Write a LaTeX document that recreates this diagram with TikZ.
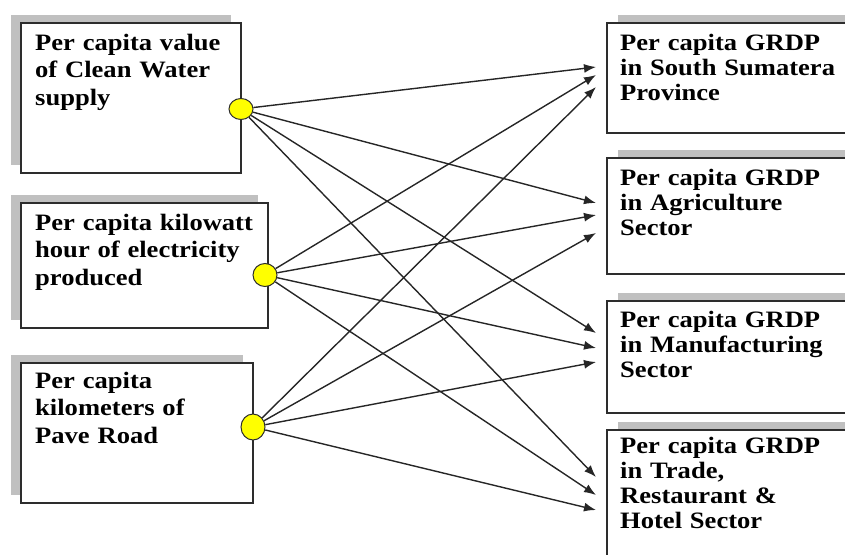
\documentclass[tikz,border=0pt]{standalone}
\usepackage{fontspec}
\setmainfont{Liberation Serif}[FakeStretch=1.13]
\usetikzlibrary{shapes.geometric}
\usetikzlibrary{shadows}
\usetikzlibrary{arrows.meta}

\definecolor{shade}{RGB}{192,192,192}
\definecolor{edge}{RGB}{45,45,45}
\definecolor{dot}{RGB}{255,255,0}

\begin{document}
\begin{tikzpicture}[x=1pt, y=-1pt,
    box/.style={draw=edge, line width=1.5pt, fill=white, anchor=north west, inner sep=0pt},
    leftbox/.style={box, general shadow={fill=shade, shadow xshift=-10pt, shadow yshift=8pt}},
    rightbox/.style={box, general shadow={fill=shade, shadow xshift=11pt, shadow yshift=8pt}},
    lefttext/.style={anchor=base west, inner sep=0pt, text width=250pt, align=left,
      font=\fontsize{23.5}{27.5}\selectfont\bfseries},
    righttext/.style={anchor=base west, inner sep=0pt, text width=250pt, align=left,
      font=\fontsize{23.5}{25.3}\selectfont\bfseries},
    hub/.style={ellipse, draw=edge, line width=1pt, fill=dot, minimum width=24pt,
      minimum height=21pt, inner sep=0pt},
    link/.style={-{Latex[length=12pt,width=9pt]}, line width=1.4pt, draw=black!85}]
                  \useasboundingbox (0,0) rectangle (845,554);
                  \clip (0,0) rectangle (845,554);

                  \node[leftbox, minimum width=220pt, minimum height=150pt] (water) at (20,22) {};
                  \node[leftbox, minimum width=247pt, minimum height=125pt] (power) at (20,202) {};
                  \node[leftbox, minimum width=232pt, minimum height=140pt] (road) at (20,362) {};

                  \node[rightbox, minimum width=270pt, minimum height=110pt] (grdp) at (606,22) {};
                  \node[rightbox, minimum width=270pt, minimum height=116pt] (agri) at (606,157) {};
                  \node[rightbox, minimum width=270pt, minimum height=112pt] (manu) at (606,300) {};
                  \node[rightbox, minimum width=270pt, minimum height=150pt] (trade) at (606,429) {};

                  \node[lefttext] (water-txt) at (35,50) {Per capita value\\of Clean Water\\supply};
                  \node[lefttext] (power-txt) at (35,230) {Per capita kilowatt\\hour of electricity\\produced};
                  \node[lefttext] (road-txt) at (35,388) {Per capita\\kilometers of\\Pave Road};

                  \node[righttext] (grdp-txt) at (620,50) {Per capita GRDP\\in South Sumatera\\Province};
                  \node[righttext] (agri-txt) at (620,185) {Per capita GRDP\\in Agriculture\\Sector};
                  \node[righttext] (manu-txt) at (620,327) {Per capita GRDP\\in Manufacturing\\Sector};
                  \node[righttext] (trade-txt) at (620,453) {Per capita GRDP\\in Trade,\\Restaurant \&\\Hotel Sector};

                  \node[hub] (h1) at (241,109) {};
                  \node[hub, minimum height=23pt] (h2) at (265,275) {};
                  \node[hub, minimum height=26pt] (h3) at (253,427) {};

                  \foreach \t/\ya/\yb/\yc in {grdp/67/75/87, agri/203/215/233, manu/333/348/362, trade/477/495/510}{
                    \coordinate (\t-1) at (596,\ya);
                    \coordinate (\t-2) at (596,\yb);
                    \coordinate (\t-3) at (596,\yc);
                    \draw[link] (h1) -- (\t-1);
                    \draw[link] (h2) -- (\t-2);
                    \draw[link] (h3) -- (\t-3);
                  }
              \end{tikzpicture}
\end{document}
